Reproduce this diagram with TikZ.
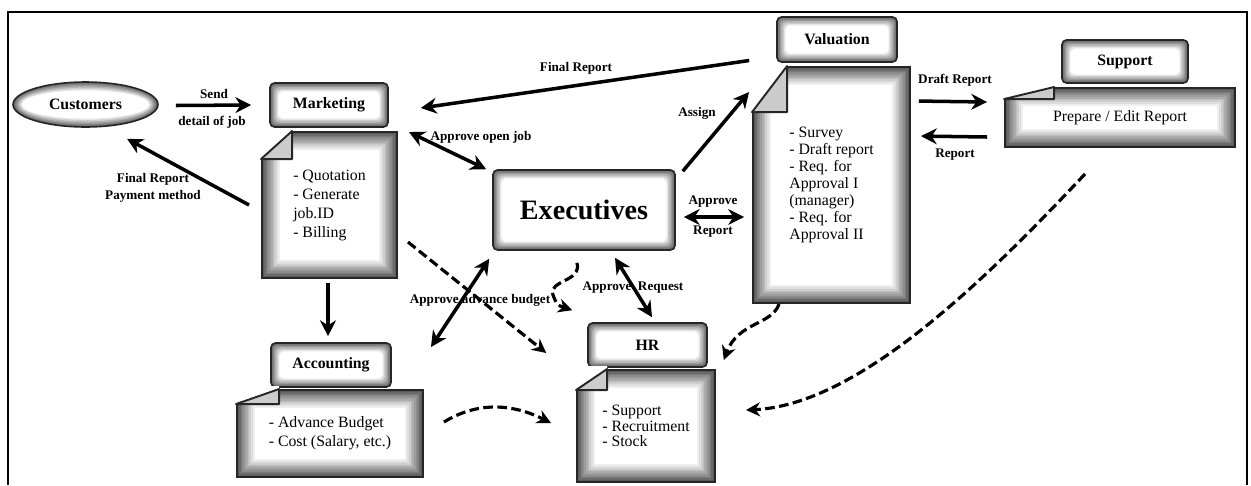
\documentclass[tikz,border=0pt]{standalone}
\usepackage{fontspec}
\setmainfont{Liberation Serif}
\usetikzlibrary{shapes.geometric,arrows.meta}

\begin{document}
\begin{tikzpicture}[x=0.02cm, y=-0.02cm,
    tab/.style={draw=black!85, line width=0.9pt, rounded corners=2.5pt, fill=black!60,
      font=\bfseries\fontsize{9}{10}\selectfont,
      path picture={\foreach \k in {1,...,6} {
        \pgfmathsetmacro\c{60-10*\k}
        \fill[black!\c] ([shift={(\k*0.8pt,\k*0.8pt)}]path picture bounding box.south west)
          rectangle ([shift={(-\k*0.8pt,-\k*0.8pt)}]path picture bounding box.north east);}}},
    doc/.style={draw=black!85, line width=1.1pt, fill=black!65, align=left, inner sep=0pt,
      font=\fontsize{9}{10.8}\selectfont,
      path picture={\foreach \k in {1,...,10} {
        \pgfmathsetmacro\c{65-6.5*\k}
        \fill[black!\c] ([shift={(\k*1pt,\k*1pt)}]path picture bounding box.south west)
          rectangle ([shift={(-\k*1pt,-\k*1pt)}]path picture bounding box.north east);}}},
    lbl/.style={font=\bfseries\fontsize{7.5}{9.6}\selectfont, inner sep=1pt, align=center},
    link/.style={line width=2pt, -{Stealth[length=9pt,width=9pt]}},
    both/.style={line width=2pt, {Stealth[length=9pt,width=9pt]}-{Stealth[length=9pt,width=9pt]}},
    dlink/.style={line width=1.8pt, dash pattern=on 5.5pt off 2.5pt, -{Stealth[length=8pt,width=8pt]}}]
  \useasboundingbox (0,0) rectangle (1251,485);
  % frame
  \draw[line width=1.1pt] (8,485) -- (8,12) -- (1247,12) -- (1247,485);

  % departments
  \node[ellipse, draw=black!85, line width=0.9pt, fill=black!60,
    path picture={\foreach \k in {1,...,6} {
      \pgfmathsetmacro\c{60-10*\k}
      \fill[black!\c] (path picture bounding box.center) ellipse [x radius=41pt-\k*0.8pt, y radius=12.8pt-\k*0.8pt];}},
    minimum width=2.9cm, minimum height=0.9cm, font=\bfseries\fontsize{9}{10}\selectfont] (cust) at (85.5,104.5) {Customers};
  \node[tab, minimum width=2.36cm, minimum height=0.88cm] (mkt) at (329,105) {Marketing};
  \node[doc, minimum width=2.7cm, minimum height=2.92cm] (mdoc) at (329.5,205) {- Quotation\\- Generate\\job.ID\\- Billing};
  \node[tab, minimum width=2.4cm, minimum height=0.88cm] (acc) at (331,365) {Accounting};
  \node[doc, minimum width=3.72cm, minimum height=1.74cm] (adoc) at (330,433.5) {- Advance Budget\\- Cost (Salary, etc.)};
  \node[tab, minimum width=3.64cm, minimum height=1.6cm, font=\bfseries\fontsize{16}{18}\selectfont] (exe) at (584,210) {Executives};
  \node[tab, minimum width=2.4cm, minimum height=0.9cm] (val) at (837,39.5) {Valuation};
  \node[doc, minimum width=3.14cm, minimum height=4.72cm, font=\fontsize{9}{9.6}\selectfont] (vdoc) at (831.5,185)
    {- Survey\\- Draft report\\- Req. for\\Approval I\\(manager)\\- Req. for\\Approval II};
  \node[tab, minimum width=2.52cm, minimum height=0.86cm] (sup) at (1125,61.5) {Support};
  \node[doc, minimum width=4.6cm, minimum height=1.18cm] (sdoc) at (1120,117.5) {Prepare / Edit Report};
  \node[tab, minimum width=2.38cm, minimum height=0.88cm] (hr) at (647.5,345) {HR};
  \node[doc, minimum width=2.76cm, minimum height=2.24cm, font=\fontsize{9}{9}\selectfont] (hdoc) at (646,426) {- Support\\- Recruitment\\- Stock};

  % folded corners
  \foreach \d/\fx/\fy in {mdoc/31/28, adoc/43/15, vdoc/35/46, hdoc/31/21, sdoc/50/12} {
    \fill[white] ([shift={(-3,-3)}]\d.north west) -- ([shift={(\fx,-3)}]\d.north west)
      -- ([shift={(\fx,0)}]\d.north west) -- ([shift={(0,\fy)}]\d.north west)
      -- ([shift={(-3,\fy)}]\d.north west) -- cycle;
    \filldraw[fill=black!20, draw=black!85, line width=1.1pt, line join=round]
      ([shift={(\fx,0)}]\d.north west) -- ([shift={(0,\fy)}]\d.north west) -- ([shift={(\fx,\fy)}]\d.north west) -- cycle;
  };

  % solid connectors
  \draw[link] ([shift={(17,1)}]cust.east) -- ([shift={(-18,0)}]mkt.west);
  \draw[link] ([shift={(-12,0)}]mdoc.west) -- ([shift={(41.5,11)}]cust.south);
  \draw[link] ([shift={(-1.5,4)}]mdoc.south) -- ([shift={(-3,-6)}]acc.north);
  \draw[both] ([shift={(11,1)}]mdoc.north east) -- ([shift={(-6,0)}]exe.north west);
  \draw[link] ([shift={(-27,21)}]val.west) -- ([shift={(32,3)}]mkt.east);
  \draw[link] ([shift={(7,2)}]exe.north east) -- ([shift={(-3,26)}]vdoc.north west);
  \draw[both] ([shift={(8,7)}]exe.east) -- ([shift={(-8,32)}]vdoc.west);
  \draw[link] ([shift={(8,35)}]vdoc.north east) -- ([shift={(-17,-15.5)}]sdoc.west);
  \draw[link] ([shift={(-17,19.5)}]sdoc.west) -- ([shift={(10,70)}]vdoc.north east);
  \draw[both] ([shift={(31,7)}]exe.south) -- ([shift={(4.5,-5)}]hr.north);
  \draw[both] ([shift={(-3,8)}]exe.south west) -- ([shift={(7,-42)}]adoc.north east);

  % dashed connectors
  \draw[dlink] ([shift={(-35,26)}]sdoc.south) .. controls (990,275) and (860,405) .. ([shift={(30,-16)}]hdoc.east);
  \draw[dlink] ([shift={(27,0)}]vdoc.south west) .. controls (772,325) and (738,322) .. ([shift={(16,15)}]hr.east);
  \draw[dlink] ([shift={(-7,12)}]exe.south) .. controls (582,282) and (548,280) .. (553,295)
    .. controls (557,305) .. ([shift={(-15,-12)}]hr.north west);
  \draw[dlink] ([shift={(10,37)}]mdoc.east) -- ([shift={(-41,8)}]hr.west);
  \draw[dlink] ([shift={(20,-11.5)}]adoc.east) .. controls (480,400) and (515,405) .. ([shift={(-25,-3)}]hdoc.west);

  % labels
  \node[lbl] (lsend) at (214,94) {Send};
  \node[lbl] (ljob) at (212,122) {detail of job};
  \node[lbl] (lpay) at (153,188) {Final Report\\Payment method};
  \node[lbl] (lopen) at (481,137) {Approve open job};
  \node[lbl] (lfinal) at (576,68) {Final Report};
  \node[lbl] (lassign) at (697,113) {Assign};
  \node[lbl] (lappr) at (713,202) {Approve};
  \node[lbl] (lrep) at (713,232) {Report};
  \node[lbl] (ldraft) at (955,80) {Draft Report};
  \node[lbl] (lback) at (955,155) {Report};
  \node[lbl] (lreq) at (633,288) {Approve\enspace Request};
  \node[lbl] (lbudget) at (480,300) {Approve advance budget};
\end{tikzpicture}
\end{document}
